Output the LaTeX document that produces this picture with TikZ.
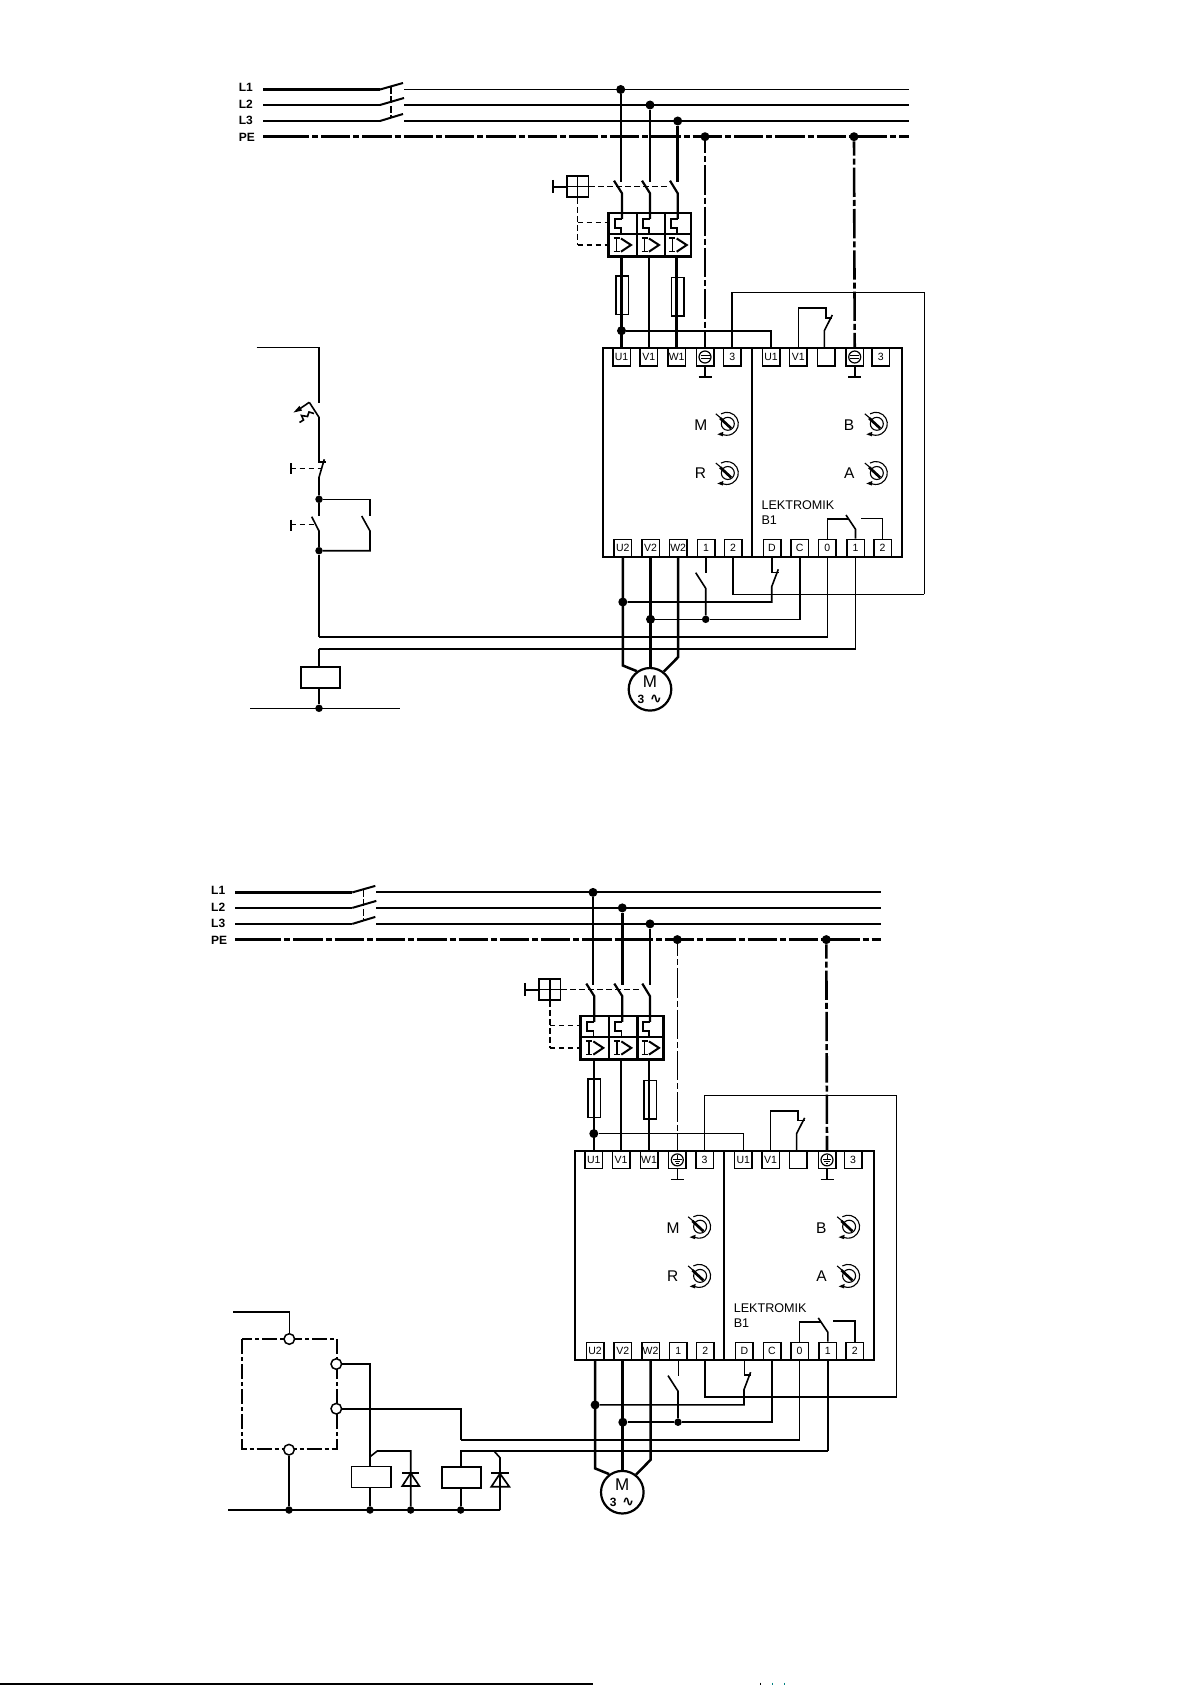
\documentclass[tikz,border=0pt]{standalone}
\usepackage{fontspec}
\setmainfont{Liberation Sans}
\newfontfamily\djv{DejaVu Sans}
\usetikzlibrary{calc}
\tikzset{
  wire/.style={line width=1.6pt,line join=miter},
  heavy/.style={line width=2.5pt},
  rail/.style={line width=2pt},
  pedash/.style={dash pattern=on 29.3pt off 3pt on 6pt off 3pt},
  ctrl/.style={line width=1.2pt,dash pattern=on 5.5pt off 3.5pt},
  term/.style={draw,line width=1.5pt,minimum width=17.5pt,minimum height=17.5pt,inner sep=0pt,fill=white,font=\fontsize{10.5}{10.5}\selectfont},
  panel/.style={draw,line width=1.9pt,minimum height=208.4pt,inner sep=0pt},
  dot/.style={circle,fill=black,inner sep=0pt,minimum size=9pt},
  smalldot/.style={circle,fill=black,inner sep=0pt,minimum size=7.5pt},
  railname/.style={anchor=west,inner sep=0pt,font=\bfseries\fontsize{12}{12}\selectfont},
  dialname/.style={inner sep=0pt,font=\fontsize{15.5}{15.5}\selectfont},
  brandname/.style={anchor=west,inner sep=0pt,font=\fontsize{12.6}{12.6}\selectfont},
  fuse/.style={draw,line width=1.6pt,minimum width=12.6pt,minimum height=38.5pt,inner sep=0pt},
  coil/.style={draw,line width=1.7pt,minimum width=39.3pt,minimum height=21pt,inner sep=0pt},
  port/.style={draw,circle,line width=1.5pt,fill=white,minimum size=10.6pt,inner sep=0pt},
}
\newcommand{\dialsym}[2]{%
  \begin{scope}[shift={(#1,#2)}]
    \draw[line width=1.1pt] (1,0) circle[radius=6.5pt];
    \draw[line width=1.1pt] (120:11.5pt) arc[start angle=120,end angle=-125,radius=11.5pt];
    \draw[line width=1.1pt] (-11,-10) -- (-4,-4);
    \draw[line width=2.7pt] (-6.7,-5.7) -- (4.3,4.5);
    \fill (-9.5,10.5) -- (-3.5,8) -- (-4,12.5) -- cycle;
  \end{scope}}
\newcommand{\earthsym}[3]{%
  \begin{scope}[shift={(#2,#3)}]
    \draw[line width=1.2pt] (0,0) circle[radius=6pt];
    \ifnum#1=1
      \draw[line width=1pt] (-4.5,-1.8) -- (4.5,-1.8) (-4.5,1.8) -- (4.5,1.8);
    \else
      \draw[line width=1pt] (0,-5.4) -- (0,-.8) (-4.2,-.8) -- (4.2,-.8) (-2.8,1.3) -- (2.8,1.3) (-1.3,3.2) -- (1.3,3.2);
    \fi
  \end{scope}}
% #1 prefix, #2 #3 shift, #4 width of L1 drop, #5 width of the left PE drop, #6 earth type, #7 width of the wire to terminal 2
\newcommand{\powerpart}[7]{%
\begin{scope}[shift={(#2,#3)}]
  \node[railname] (#1nL1) at (238.7,87) {L1};
  \node[railname] (#1nL2) at (238.7,104.5) {L2};
  \node[railname] (#1nL3) at (238.7,120.5) {L3};
  \node[railname] (#1nPE) at (238.7,137.5) {PE};
  % supply rails and main switch
  \draw[line width=2.5pt] (263,89.5) -- (380,89.5);
  \draw[line width=2pt] (380,89.5) -- (403,83);
  \draw[line width=2.4pt] (263,105) -- (380,105);
  \draw[line width=2pt] (380,105) -- (404,98);
  \draw[line width=2pt] (263,121) -- (380,121);
  \draw[line width=2pt] (380,121) -- (403,114);
  \draw[line width=1.4pt,dash pattern=on 7pt off 2.5pt] (391,87) -- (391,117);
  \draw[line width=1.9pt] (404,89.5) -- (909,89.5);
  \draw[line width=2.5pt] (404,105) -- (909,105);
  \draw[line width=1.9pt] (404,121) -- (909,121);
  \draw[line width=2.6pt] (263,136.7) -- (282,136.7);
  \draw[line width=2.6pt,pedash] (279.7,136.7) -- (909,136.7);
  \node[dot] (#1jL1) at (620.7,89.5) {};
  \node[dot] (#1jL2) at (650,105) {};
  \node[dot] (#1jL3) at (677.7,121) {};
  \node[dot] (#1jPE) at (705,136.7) {};
  \node[dot] (#1jPEr) at (854,136.7) {};
  % breaker
  \draw[line width=#4] (#1jL1) -- (620.7,181.7);
  \draw[heavy] (#1jL2) -- (650,181.7);
  \draw[heavy] (#1jL3) -- (677.7,181.7);
  \node[draw,line width=1.6pt,minimum width=21.6pt,minimum height=21pt,inner sep=0pt] (#1hand) at (577.5,186.7) {};
  \draw[line width=1.4pt] (#1hand.north) -- (#1hand.south) (#1hand.west) -- (#1hand.east);
  \draw[line width=1.8pt] (552.7,180) -- (552.7,192.7);
  \draw[line width=1.8pt] (552.7,186.7) -- (#1hand.west);
  \draw[ctrl] (#1hand.east) -- (670,186.7);
  \draw[line width=1.5pt,dash pattern=on 6pt off 3pt] (#1hand.south) -- (577.5,245);
  \draw[ctrl,line width=1.4pt] (577.5,222.7) -- (608,222.7);
  \draw[ctrl,line width=1.4pt] (577.5,245) -- (608,245);
  \foreach \cx/\bx in {622/614,650/642,677.7/670}{
    \draw[line width=2.2pt] (\bx,180.7) -- (\cx,193.3) -- (\cx,219);
    \draw[line width=1.7pt] (\cx,219) -- ++(-7,0) -- ++(0,9.3) -- ++(6.3,0) -- ++(0,6);
    \draw[line width=1.4pt] (\cx-8.5,238) -- ++(6,0) (\cx-5.5,238) -- ++(0,13.7) (\cx-8.5,251.7) -- ++(6,0);
    \draw[line width=2pt] (\cx-1,238.5) -- (\cx+9,245) -- (\cx-1,251.7);
  }
  \node[draw,line width=2.4pt,minimum width=82.7pt,minimum height=43.4pt,inner sep=0pt] (#1blk) at (649.7,235) {};
  \draw[line width=2.4pt] (608.3,234.3) -- (691,234.3) (636.7,213.3) -- (636.7,256.7) (665,213.3) -- (665,256.7);
  % panels and terminals
  \node[panel,minimum width=149pt] (#1pnl) at (677.2,452.5) {};
  \node[panel,minimum width=150pt] (#1pnr) at (826.7,452.5) {};
  \foreach \nm/\tx/\px in {U1/U1/621.5,V1/V1/648.8,W1/W1/676.7,PE//705,T3/3/732.2,U1r/U1/771,V1r/V1/798.3,Blank//826,PEr//854.7,T3r/3/880.8}{
    \node[term] (#1\nm t) at (\px,357) {\tx};
  }
  \foreach \nm/\tx/\px in {U2/U2/622.8,V2/V2/650.5,W2/W2/678.2,B1/1/706,B2/2/733,D/D/772,C/C/799.7,O/0/827.3,R1/1/855.5,R2/2/882.5}{
    \node[term] (#1\nm t) at (\px,548.2) {\tx};
  }
  \earthsym{#6}{705}{357}
  \earthsym{#6}{854.7}{357}
  \draw[wire] (#1PEt.south) -- (705,376.7) (698.5,376.7) -- (711.5,376.7);
  \draw[wire] (#1PErt.south) -- (854.7,376.7) (848.2,376.7) -- (861.2,376.7);
  % from breaker to panel
  \node[fuse] (#1fu) at (622,295.2) {};
  \node[fuse] (#1fw) at (677.7,296.7) {};
  \draw[heavy] (#1blk.south -| #1U1t) -- (#1U1t.north);
  \draw[heavy] (#1blk.south -| #1V1t) -- (#1V1t.north);
  \draw[heavy] (#1blk.south -| #1W1t) -- (#1W1t.north);
  \node[dot] (#1jU) at (621.5,330.7) {};
  \draw[wire] (#1jU) -| (#1U1rt.north);
  \draw[line width=#5,pedash,dash phase=17.3pt] (#1jPE) -- (#1PEt.north);
  \draw[line width=2.6pt,pedash,dash phase=15pt] (#1jPEr) -- (#1PErt.north);
  \coordinate (#1cra) at (924.3,292.7);
  \coordinate (#1crb) at (924.3,594.3);
  \draw[wire] (#1T3t.north) |- (#1cra) -- (#1crb);
  \draw[line width=#7] (#1crb) -| (#1B2t.south);
  % upper contact
  \draw[wire] (#1V1rt.north) |- (825.7,308.3) -- (825.7,317.7) -- (832.3,317.7);
  \draw[wire] (832.3,315) -- (824.3,330.7) -- (824.3,348.3);
  % dials
  \node[dialname] (#1nM) at (700.7,425) {M};
  \node[dialname] (#1nR) at (700.5,473.5) {R};
  \node[dialname] (#1nB) at (849,425) {B};
  \node[dialname] (#1nA) at (849.3,473.5) {A};
  \dialsym{726.8}{423.8}\dialsym{726.8}{473}\dialsym{875.8}{423.8}\dialsym{875.8}{473}
  \node[brandname] (#1bra) at (761.3,505) {LEKTROMIK};
  \node[brandname] (#1brb) at (761.3,520) {B1};
  % lower inner contact
  \draw[wire] (#1Ot.north) |- (849,519);
  \draw[wire] (846,515) -- (855.5,529.3) -- (#1R1t.north);
  \draw[wire] (#1R2t.north) |- (861,518.3);
  % motor
  \node[draw,circle,line width=2.2pt,minimum size=42.6pt,inner sep=0pt] (#1mot) at (650,689.3) {};
  \node[inner sep=0pt,font=\fontsize{17}{17}\selectfont] (#1mm) at (650,682) {M};
  \node[inner sep=0pt,font=\bfseries\fontsize{12}{12}\selectfont] (#1m3) at (641,699) {3};
  \node[inner sep=0pt,font=\djv\bfseries\fontsize{14.5}{14.5}\selectfont] (#1ms) at (656,699) {∿};
  \draw[heavy] (#1U2t.south) -- ++(0,107.8) -- (#1mot.126);
  \draw[line width=2.8pt] (#1V2t.south) -- (#1V2t.south |- #1mot.north);
  \draw[heavy] (#1W2t.south) -- ++(0,99.3) -- (#1mot.52);
  % lower wiring
  \node[dot] (#1jA) at (622.8,602) {};
  \node[dot] (#1jB) at (650.5,619.3) {};
  \node[smalldot] (#1jC) at (705.7,619.3) {};
  \draw[wire] (#1jA) -| (771.7,586.7) -- (778.3,569.3);
  \draw[wire] (#1Dt.south) |- (778.5,572.3);
  \draw[wire] (#1jB) -- (#1jC) -| (#1Ct.south);
  \draw[wire] (#1B1t.south) -- (706,573.3);
  \draw[wire] (695.7,572.7) -- (705.7,588.3) -- (#1jC);
\end{scope}}
\begin{document}
\begin{tikzpicture}[x=1pt,y=-1pt]
  \useasboundingbox (0,0) rectangle (1191,1685);
  \powerpart{a}{0}{0}{2.4pt}{2.4pt}{1}{1.6pt}
  % first control circuit
  \coordinate (acs) at (256.7,347.3);
  \node[smalldot] (aj1) at (319,499.3) {};
  \node[smalldot] (aj2) at (319,550.7) {};
  \node[smalldot] (aj3) at (319,708.3) {};
  \node[coil] (acoil) at (320.3,677.8) {};
  \coordinate (acoilin) at (319,648.7);
  \coordinate (acoilout) at (319,636.7);
  \draw[wire] (acs) -| (319,403.3);
  \draw[wire] (319,417.3) -- (309.3,402.3);
  \draw[wire] (309.3,402.3) -- (298,410);
  \fill (293.5,412.5) -- (299.5,405.8) -- (302,410.6) -- cycle;
  \draw[wire] (299.5,422.5) -- (303.5,420) -- (301.5,415.5) -- (307.5,416.5) -- (309,412) -- (314,413.5);
  \draw[wire] (319,417.3) -- (319,461.7) -- (326,461.7);
  \draw[wire] (324.3,459.3) -- (319,477.3) -- (aj1);
  \draw[ctrl] (290.7,468.3) -- (321,468.3);
  \draw[line width=1.7pt] (290.7,463.3) -- (290.7,473.7);
  \draw[wire] (aj1) -- (319,516);
  \draw[wire] (311.7,516.7) -- (319,531) -- (aj2);
  \draw[ctrl] (290.7,524.3) -- (314,524.3);
  \draw[line width=1.7pt] (290.7,519.5) -- (290.7,530.7);
  \draw[wire] (aj1) -| (370,516);
  \draw[wire] (361.7,516) -- (370,531) |- (aj2);
  \draw[wire] (aj2) -- (acoilout);
  \draw[wire] (acoilout) -| (aOt.south);
  \draw[wire] (acoilin) -| (aR1t.south);
  \draw[wire] (acoilin) -- (319,667.3);
  \draw[wire] (319,688.3) -- (aj3);
  \draw[wire] (250,708.3) -- (400,708.3);

  \powerpart{b}{-27.7}{802.9}{1.5pt}{1.3pt}{2}{2pt}
  % second control circuit
  \draw[line width=1.6pt,dash pattern=on 15pt off 3pt on 4pt off 3pt] (241.7,1339) rectangle (336.7,1449);
  \node[port] (bp1) at (289.3,1339) {};
  \node[port] (bp2) at (336.3,1364) {};
  \node[port] (bp3) at (336.3,1408.7) {};
  \node[port] (bp4) at (289,1449.7) {};
  \node[smalldot] (bj1) at (289,1510) {};
  \node[smalldot] (bj2) at (370,1510) {};
  \node[smalldot] (bj3) at (410.7,1510) {};
  \node[smalldot] (bj4) at (460.7,1510) {};
  \coordinate (bbus) at (228.3,1510);
  \coordinate (bbusend) at (500,1510);
  \coordinate (bstart) at (233.3,1312);
  \node[coil] (bcoil1) at (371,1477) {};
  \node[coil] (bcoil2) at (461.3,1477.8) {};
  \draw[wire] (bstart) -| (bp1.north);
  \draw[wire] (bp4.south) -- (bj1);
  \draw[wire] (bbus) -- (bbusend);
  \draw[wire] (bp2.east) -| (370,1466);
  \draw[wire] (370,1488) -- (bj2);
  \draw[wire] (370,1456.7) -- (377.3,1451) -| (bj3);
  \draw[wire] (bp3.east) -| (460.7,1439.7);
  \draw[wire] (460.7,1439.7) -| (bOt.south);
  \draw[wire] (460.7,1467.3) |- (bR1t.south |- 0,1451);
  \draw[wire] (bR1t.south) -- (bR1t.south |- 0,1451);
  \draw[wire] (460.7,1488.3) -- (bj4);
  \draw[wire] (494,1451) -- (500,1457.7) -- (bbusend);
  \draw[line width=1.7pt] (402.3,1472.7) -- (419.3,1472.7);
  \draw[line width=1.7pt] (402.3,1486) -- (419.3,1486) -- (410.7,1473) -- cycle;
  \draw[line width=1.7pt] (491.3,1473.3) -- (509.3,1473.3);
  \draw[line width=1.7pt] (491.3,1486.7) -- (509.3,1486.7) -- (500,1473.6) -- cycle;
  % page edge
  \draw[line width=1.6pt] (0,1684) -- (593,1684);
  \draw[line width=1pt] (760,1682.5) -- (760,1685);
  \draw[line width=1pt,teal] (772,1682.5) -- (772,1685) (784,1682.5) -- (784,1685);
\end{tikzpicture}
\end{document}
